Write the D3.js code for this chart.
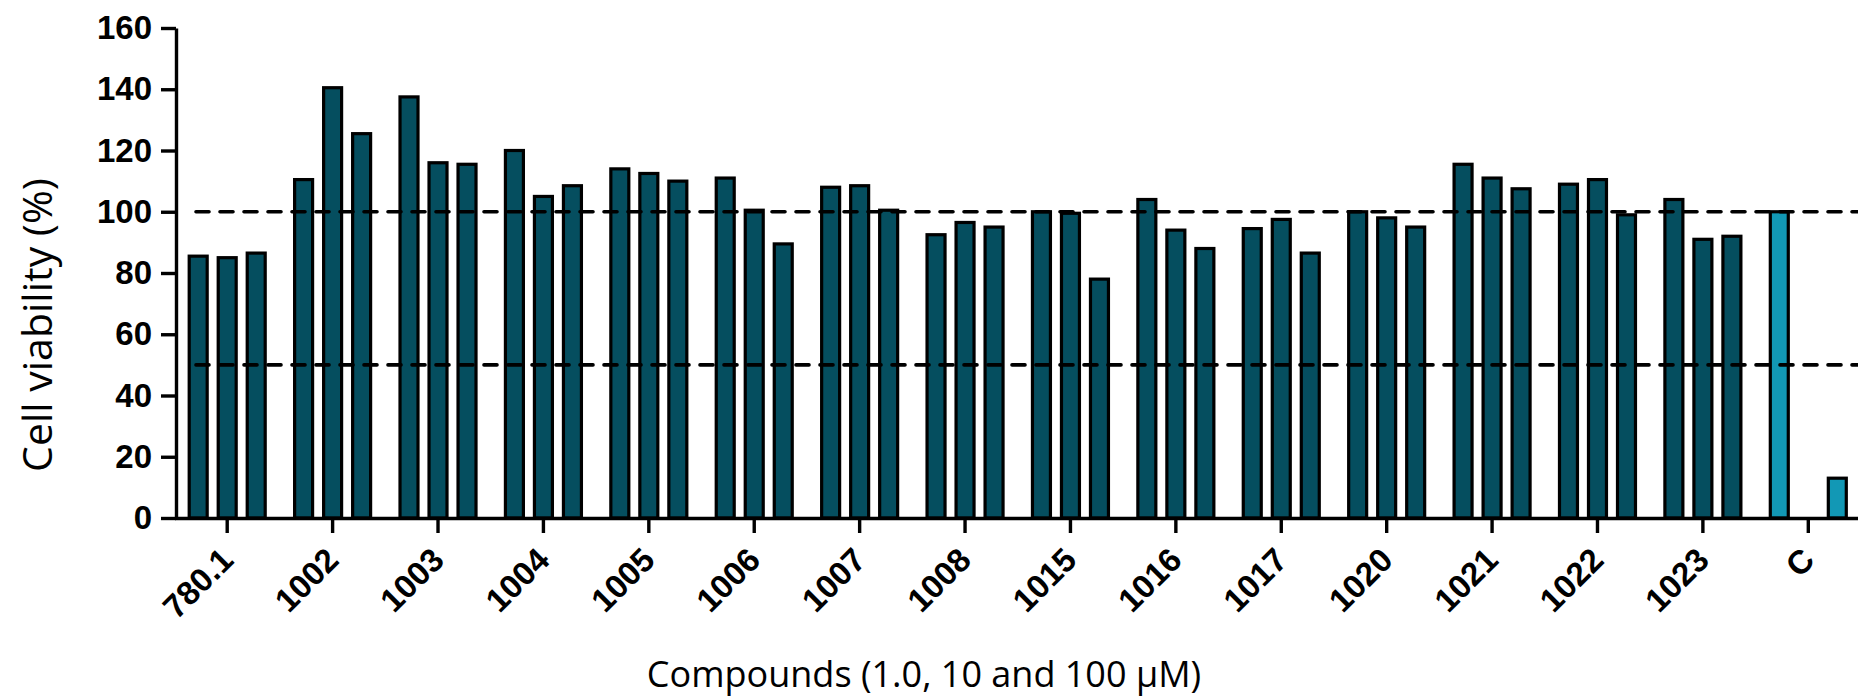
<!DOCTYPE html>
<html>
<head>
<meta charset="utf-8">
<script src="https://cdn.jsdelivr.net/npm/d3@7"></script>
<style>
  body { margin: 0; background: #fff; }
</style>
</head>
<body>
<div id="chart"></div>
<script>
// Compounds on the x axis, with viability (%) at 1.0, 10 and 100 uM
const compounds = ["780.1", "1002", "1003", "1004", "1005", "1006", "1007", "1008",
                   "1015", "1016", "1017", "1020", "1021", "1022", "1023", "C"];
const dose1   = [85.5, 110.5, 137.5, 120, 114, 111, 108, 92.5, 100, 104, 94.5, 100, 115.5, 109, 104, 100];
const dose10  = [85, 140.5, 116, 105, 112.5, 100.5, 108.5, 96.5, 99.5, 94, 97.5, 98, 111, 110.5, 91, null];
const dose100 = [86.5, 125.5, 115.5, 108.5, 110, 89.5, 100.5, 95, 78, 88, 86.5, 95, 107.5, 99, 92, 13];
const refLines = [100, 50];
const yTicks = [0, 20, 40, 60, 80, 100, 120, 140, 160];
const doses = [0, 1, 2];

const W = 1858, H = 699;
const margin = { top: 28, right: 0, bottom: 181, left: 176 };

const svg = d3.select("#chart")
    .append("svg")
    .attr("width", W)
    .attr("height", H);

// Scales
const x0 = d3.scaleBand()
    .domain(compounds)
    .range([margin.left - 1.5, 1861]);

const x1 = d3.scaleBand()
    .domain(doses)
    .range([x0.bandwidth() / 2 - 38, x0.bandwidth() / 2 + 38])
    .paddingInner(0.38);

const y = d3.scaleLinear()
    .domain([0, 160])
    .range([H - margin.bottom, margin.top]);

// Bars
const rows = compounds.map((c, i) => ({
    name: c,
    vals: [dose1[i], dose10[i], dose100[i]]
}));

const groups = svg.append("g")
    .selectAll("g")
    .data(rows)
    .join("g")
    .attr("transform", d => `translate(${x0(d.name)},0)`);

groups.selectAll("rect")
    .data(d => d.vals.map((v, k) => ({ k, v, ctrl: d.name === "C" })).filter(e => e.v != null))
    .join("rect")
    .attr("x", e => x1(e.k))
    .attr("width", x1.bandwidth())
    .attr("y", e => y(e.v))
    .attr("height", e => y(0) - y(e.v))
    .attr("fill", e => e.ctrl ? "#1298b5" : "#054e5f")
    .attr("stroke", "#000")
    .attr("stroke-width", 3.2);

// Reference lines at 100% and 50%
svg.append("g")
    .selectAll("line")
    .data(refLines)
    .join("line")
    .attr("x1", margin.left + 20)
    .attr("x2", W)
    .attr("y1", d => y(d))
    .attr("y2", d => y(d))
    .attr("stroke", "#000")
    .attr("stroke-width", 3.6)
    .attr("stroke-linecap", "round")
    .attr("stroke-dasharray", "13,11");

// Axes
const yAxis = svg.append("g")
    .attr("transform", `translate(${margin.left},0)`)
    .call(d3.axisLeft(y).tickValues(yTicks).tickSize(15).tickSizeOuter(0).tickPadding(9));

const xAxis = svg.append("g")
    .attr("transform", `translate(0,${y(0)})`)
    .call(d3.axisBottom(x0).tickSize(15).tickSizeOuter(0));

[yAxis, xAxis].forEach(a => {
    a.select(".domain").attr("stroke", "#000").attr("stroke-width", 3.4);
    a.selectAll(".tick line").attr("stroke", "#000").attr("stroke-width", 3.4);
    a.selectAll("text")
        .attr("fill", "#000")
        .style("font-family", "'Liberation Sans', Arial, sans-serif")
        .style("font-weight", "bold");
});

yAxis.selectAll(".tick text").style("font-size", "33px");

xAxis.selectAll(".tick text")
    .style("font-size", "33px")
    .attr("text-anchor", "end")
    .attr("x", 0)
    .attr("y", 0)
    .attr("dy", 0)
    .attr("transform", "translate(8,44) rotate(-45)");

// Axis titles
svg.append("text")
    .attr("transform", `translate(52,325) rotate(-90)`)
    .attr("text-anchor", "middle")
    .style("font-family", "'Open Sans', sans-serif")
    .style("font-size", "41px")
    .text("Cell viability (%)");

svg.append("text")
    .attr("x", 924)
    .attr("y", 687)
    .attr("text-anchor", "middle")
    .style("font-family", "'Open Sans', sans-serif")
    .style("font-size", "36px")
    .text("Compounds (1.0, 10 and 100 μM)");
</script>
</body>
</html>
